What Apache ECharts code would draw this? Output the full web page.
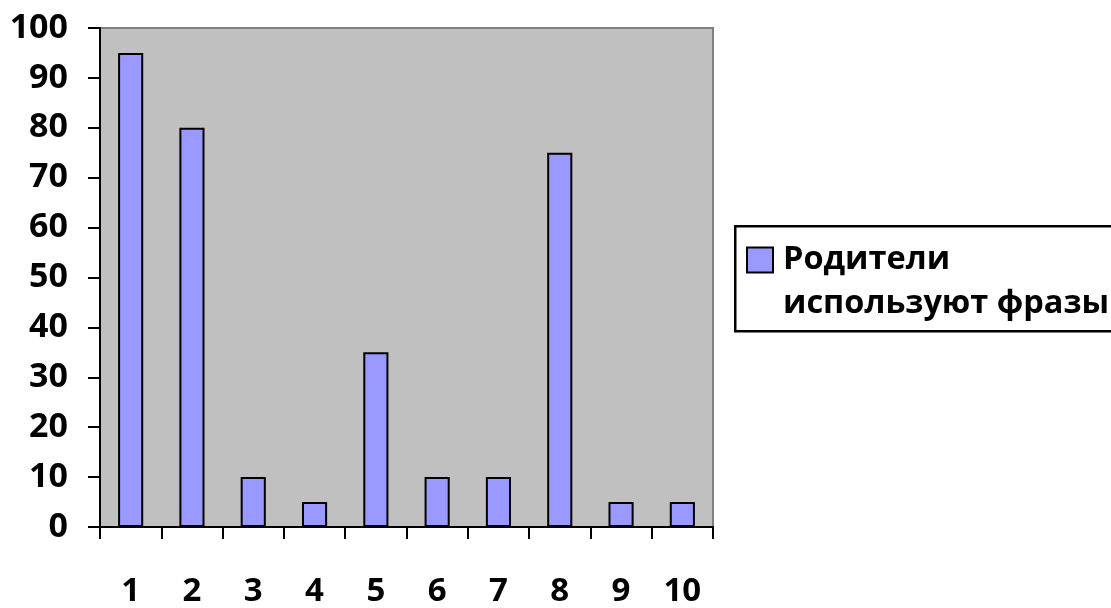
<!DOCTYPE html>
<html><head><meta charset="utf-8">
<script src="https://cdn.jsdelivr.net/npm/echarts@6/dist/echarts.min.js"></script>
<style>html,body{margin:0;padding:0;background:#fff}#c{width:1111px;height:608px}</style>
</head><body><div id="c"></div>
<script>
const categories = ['1','2','3','4','5','6','7','8','9','10'];
const values = [95, 80, 10, 5, 35, 10, 10, 75, 5, 5];
const seriesName = 'Родители используют фразы';
const legendLines = ['Родители', 'используют фразы'];
const FONT = '"Open Sans", sans-serif';
const chart = echarts.init(document.getElementById('c'));
chart.setOption({
  animation: false,
  grid: {left: 100, right: 398, top: 28, bottom: 79, show: true, backgroundColor: '#C0C0C0', borderColor: '#808080', borderWidth: 2},
  graphic: [{
    type: 'rect', left: 734, top: 225, z: 0,
    shape: {width: 400, height: 105},
    style: {fill: '#fff', stroke: '#000', lineWidth: 2.5}
  }],
  legend: {
    orient: 'vertical', left: 746, top: 194, padding: 0, z: 10,
    itemWidth: 26, itemHeight: 25, icon: 'rect',
    formatter: function () { return '\n' + legendLines.join('\n'); },
    textStyle: {fontFamily: FONT, fontWeight: 'bold', fontSize: 32.5, color: '#000', lineHeight: 44, padding: [0, 0, 0, 5]},
    data: [seriesName]
  },
  xAxis: {
    type: 'category', data: categories,
    axisLine: {lineStyle: {color: '#000', width: 2}},
    axisTick: {show: true, alignWithLabel: false, length: 12, lineStyle: {color: '#000', width: 2}},
    axisLabel: {margin: 48, fontFamily: FONT, fontWeight: 'bold', fontSize: 33, color: '#000'}
  },
  yAxis: {
    type: 'value', min: 0, max: 100, interval: 10,
    axisLine: {show: true, lineStyle: {color: '#000', width: 2}},
    axisTick: {show: true, length: 12, lineStyle: {color: '#000', width: 2}},
    splitLine: {show: false},
    axisLabel: {margin: 32, fontFamily: FONT, fontWeight: 'bold', fontSize: 34, color: '#000'}
  },
  series: [{
    name: seriesName, type: 'bar', data: values, barWidth: '41%',
    itemStyle: {color: '#9999FF', borderColor: '#000', borderWidth: 2}
  }]
});
</script></body></html>
